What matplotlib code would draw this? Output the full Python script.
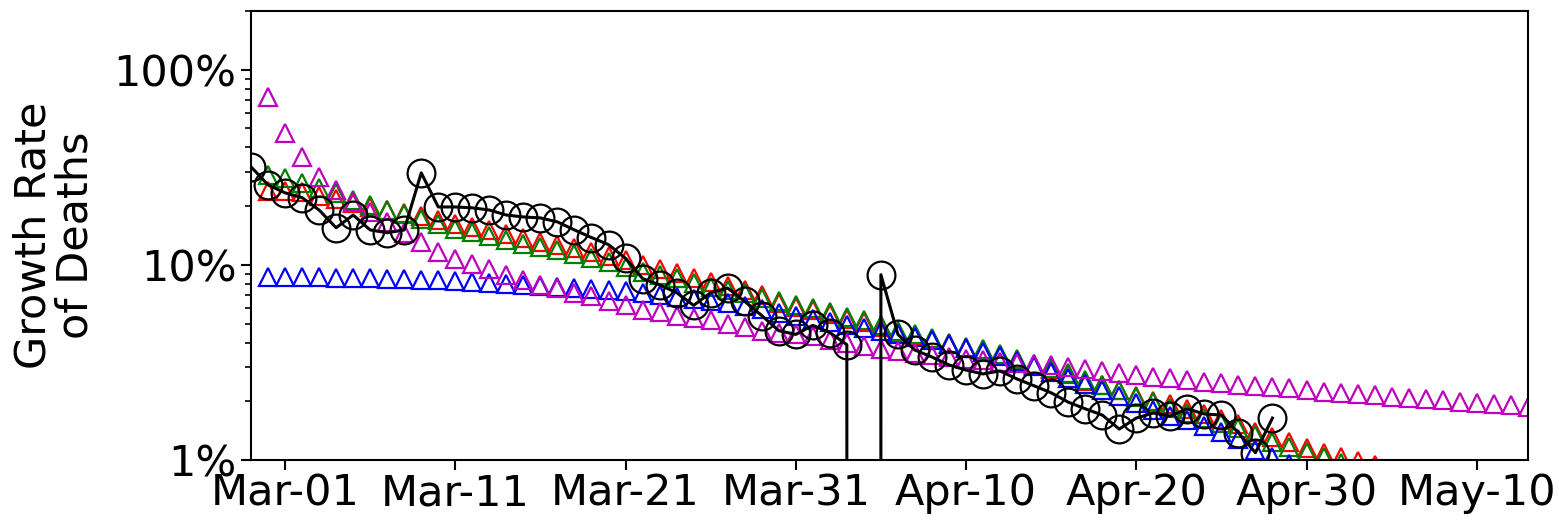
import matplotlib
matplotlib.use("Agg")
import matplotlib.pyplot as plt
import matplotlib.dates as mdates
from matplotlib.ticker import FixedLocator, FixedFormatter, LogLocator, NullFormatter
import pandas as pd
import numpy as np

# ---- data (growth rate of deaths, in percent) ----
observed_start = "2020-02-28"
observed = [31.8, 25.7,
            23.4, 22.1, 19.1, 15.5, 18.0, 15.1, 14.6, 15.1, 29.6, 19.8,
            19.8, 19.6, 19.1, 18.0, 17.6, 17.4, 16.6, 15.1, 13.8, 12.7,
            10.8, 8.5, 7.9, 7.2, 6.2, 7.2, 7.6, 6.5, 5.5, 4.6, 4.4,
            4.9, 4.5, 3.9, 0.0, 8.9, 4.4, 3.66, 3.37, 3.07, 2.89,
            2.76, 2.86, 2.60, 2.40, 2.21, 1.98, 1.83, 1.70, 1.44, 1.64,
            1.74, 1.68, 1.83, 1.72, 1.70, 1.38, 1.09, 1.64]

model_start = "2020-02-29"
magenta_vals = [72.8,
                47.5, 35.5, 28.3, 24.2, 21.0, 18.7, 16.6, 14.6, 13.1, 11.7,
                10.7, 10.1, 9.5, 8.9, 8.4, 7.9, 7.6, 7.2, 6.9, 6.5,
                6.2, 5.9, 5.7, 5.5, 5.35, 5.2, 5.0, 4.8, 4.6, 4.5, 4.4,
                4.3, 4.1, 3.98, 3.84, 3.71, 3.62, 3.54, 3.46, 3.37, 3.30,
                3.26, 3.18, 3.14, 3.11, 3.07, 3.00, 2.93, 2.86, 2.79, 2.73,
                2.66, 2.63, 2.57, 2.51, 2.48, 2.42, 2.40, 2.37, 2.34, 2.29,
                2.23, 2.21, 2.18, 2.15, 2.10, 2.08, 2.05, 2.03, 1.98, 1.96,
                1.94, 1.91, 1.87]
blue_vals = [8.68,
             8.68, 8.68, 8.63, 8.58, 8.58, 8.53, 8.48, 8.43, 8.38, 8.33,
             8.28, 8.18, 8.09, 7.99, 7.90, 7.80, 7.71, 7.62, 7.53, 7.44,
             7.36, 7.19, 7.02, 6.85, 6.69, 6.54, 6.39, 6.16, 5.95, 5.67, 5.48,
             5.29, 5.10, 4.92, 4.75, 4.59, 4.43, 4.27, 4.12, 3.94, 3.75,
             3.58, 3.41, 3.22, 3.03, 2.83, 2.63, 2.45, 2.29, 2.13, 1.96,
             1.80, 1.68, 1.60, 1.49, 1.39, 1.28, 1.13, 1.04, 0.95]
green_vals = [28.9,
              27.9, 26.3, 24.8, 23.4, 21.5, 20.3, 19.1, 18.3, 17.2, 16.2,
              15.3, 14.8, 14.1, 13.4, 12.8, 12.4, 11.9, 11.4, 10.9, 10.4,
              9.8, 9.2, 8.9, 8.6, 8.1, 7.7, 7.4, 7.2, 6.8, 6.5, 6.2,
              6.0, 5.7, 5.4, 5.2, 4.9, 4.6, 4.4, 4.2, 4.0, 3.8,
              3.7, 3.5, 3.3, 3.1, 2.96, 2.79, 2.57, 2.42, 2.29, 2.10,
              1.98, 1.85, 1.74, 1.64, 1.55, 1.46, 1.34, 1.24, 1.17, 1.10,
              1.04, 0.97]
red_vals = [24.0,
            24.0, 23.7, 22.6, 21.8, 20.8, 19.8, 19.1, 18.5, 17.8, 17.0,
            16.2, 15.7, 15.1, 14.4, 13.8, 13.1, 12.7, 12.2, 11.7, 11.1,
            10.6, 10.0, 9.5, 9.1, 8.6, 8.2, 7.8, 7.4, 7.0, 6.4, 6.1,
            5.9, 5.6, 5.3, 5.1, 4.8, 4.55, 4.35, 4.15, 3.95, 3.75,
            3.65, 3.45, 3.25, 3.05, 2.92, 2.76, 2.55, 2.42, 2.29, 2.12,
            2.0, 1.94, 1.83, 1.72, 1.62, 1.53, 1.39, 1.31, 1.24, 1.15,
            1.09, 1.04, 0.99, 0.94]

y_ticks = [1, 10, 100]
y_tick_labels = ["1%", "10%", "100%"]
x_tick_start = "2020-03-01"
x_tick_end = "2020-05-10"
x_limits = ("2020-02-28", "2020-05-13")
y_label = "Growth Rate\nof Deaths"


def dates(start, n):
    return pd.date_range(start, periods=n, freq="D")


plt.rcParams["font.family"] = ["DejaVu Sans"]
fig = plt.figure(figsize=(15.59, 5.2), dpi=100)
ax = fig.add_axes([0.161, 0.1154, 0.819, 0.8635])

tri = dict(marker="^", linestyle="none", markersize=12.5, markerfacecolor="none",
           markeredgewidth=1.6)
ax.plot(dates(model_start, len(red_vals)), red_vals, color="red", **tri)
ax.plot(dates(model_start, len(green_vals)), green_vals, color="green", **tri)
ax.plot(dates(model_start, len(blue_vals)), blue_vals, color="blue", **tri)
ax.plot(dates(model_start, len(magenta_vals)), magenta_vals, color="m", **tri)
ax.plot(dates(observed_start, len(observed)), observed, color="black",
        marker="o", markersize=20, markerfacecolor="none", markeredgewidth=1.6,
        linewidth=2.2)

ax.set_yscale("log")
ax.set_ylim(1, 200)
ax.yaxis.set_major_locator(FixedLocator(y_ticks))
ax.yaxis.set_major_formatter(FixedFormatter(y_tick_labels))
ax.yaxis.set_minor_locator(LogLocator(base=10, subs=np.arange(2, 10)))
ax.yaxis.set_minor_formatter(NullFormatter())

ax.set_xlim(pd.Timestamp(x_limits[0]), pd.Timestamp(x_limits[1]))
ax.set_xticks(pd.date_range(x_tick_start, x_tick_end, freq="10D"))
ax.xaxis.set_major_formatter(mdates.DateFormatter("%b-%d"))

ax.tick_params(axis="both", which="major", labelsize=31, length=7, width=1.5,
               direction="out")
ax.tick_params(axis="x", which="major", pad=2)
ax.tick_params(axis="y", which="minor", length=4, width=1.2)
for s in ax.spines.values():
    s.set_linewidth(1.5)

ax.set_ylabel(y_label, fontsize=31, labelpad=12, linespacing=1.0)

fig.savefig("out.png", dpi=100)
